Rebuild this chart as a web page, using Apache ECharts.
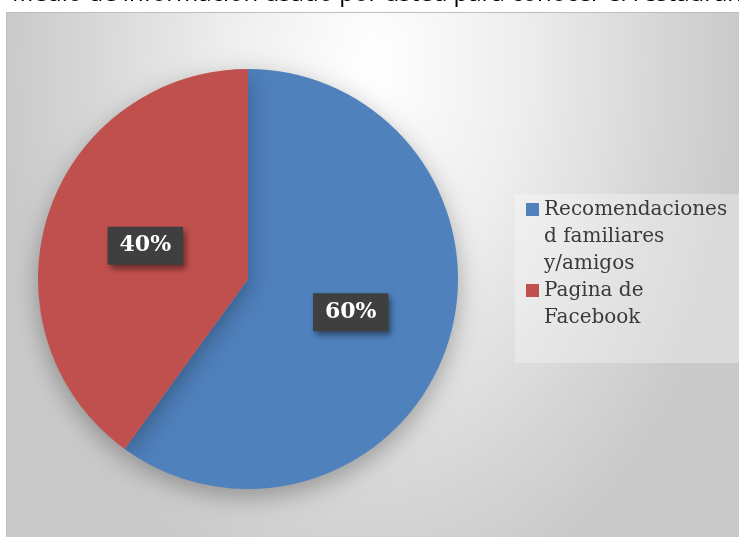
<!DOCTYPE html>
<html>
<head>
<meta charset="utf-8">
<script src="https://cdn.jsdelivr.net/npm/echarts@6/dist/echarts.min.js"></script>
<style>html,body{margin:0;padding:0;background:#fff}#c{width:739px;height:537px}</style>
</head>
<body>
<div id="c"></div>
<script>
const titleText = 'Medio de información usado por usted para conocer el restaurante';
const categories = ['Recomendaciones d familiares y/amigos', 'Pagina de Facebook'];
const legendLines = [['Recomendaciones', 'd familiares', 'y/amigos'], ['Pagina de', 'Facebook']];
const values = [60, 40];
const colors = ['#4F81BD', '#C0504D'];

const chart = echarts.init(document.getElementById('c'), null, {renderer: 'canvas'});
const option = {
  animation: false,
  title: {
    text: titleText,
    left: 12, top: -18, padding: 0,
    textStyle: {fontFamily: 'Open Sans', fontWeight: 'normal', fontSize: 24, color: '#000'}
  },
  graphic: [
    {type: 'rect', z: -10, silent: true,
     x: 0, y: 12.5, scaleY: 1.5,
     shape: {x: 6.5, y: 0, width: 735, height: 350},
     style: {
       fill: {type: 'radial', x: 0.5, y: 0.1, r: 1.05,
              colorStops: [{offset: 0, color: '#ffffff'}, {offset: 0.4, color: '#eeeeee'}, {offset: 0.8, color: '#d5d5d5'}, {offset: 1, color: '#cacaca'}]}
     }},
    {type: 'rect', z: -9, silent: true,
     shape: {x: 6.5, y: 12.5, width: 740, height: 530},
     style: {fill: 'none', stroke: '#bdbdbd', lineWidth: 1}},
    {type: 'rect', z: 1, silent: true,
     shape: {x: 515, y: 194, width: 230, height: 169},
     style: {fill: 'rgba(255,255,255,0.3)'}}
  ],
  legend: {
    orient: 'vertical',
    left: 526, top: 142,
    padding: 0,
    itemWidth: 13, itemHeight: 13,
    itemGap: -27,
    icon: 'rect',
    data: categories,
    formatter: function (name) {
      const i = categories.indexOf(name);
      const lines = legendLines[i];
      const pad = new Array(lines.length - 1).fill('');
      return pad.concat(lines).join('\n');
    },
    textStyle: {fontFamily: 'DejaVu Serif', fontSize: 20, lineHeight: 27, color: '#3a3a3a', padding: [0, 0, 0, 0]}
  },
  series: [{
    type: 'pie',
    center: [248, 279],
    radius: 210,
    startAngle: 90,
    clockwise: true,
    data: categories.map((n, i) => ({name: n, value: values[i], itemStyle: {color: colors[i]}})),
    itemStyle: {borderWidth: 0, shadowBlur: 25, shadowOffsetY: 8, shadowColor: 'rgba(0,0,0,0.3)'},
    label: {
      show: true,
      position: 'inside',
      formatter: '{c}%',
      fontFamily: 'DejaVu Serif', fontWeight: 'bold', fontSize: 22, lineHeight: 26,
      color: '#ffffff',
      backgroundColor: '#3f3f3f',
      padding: [6, 12, 6, 12],
      shadowBlur: 6, shadowOffsetX: 3, shadowOffsetY: 4, shadowColor: 'rgba(0,0,0,0.45)'
    },
    labelLine: {show: false},
    emphasis: {disabled: true}
  }]
};
chart.setOption(option);
</script>
</body>
</html>
